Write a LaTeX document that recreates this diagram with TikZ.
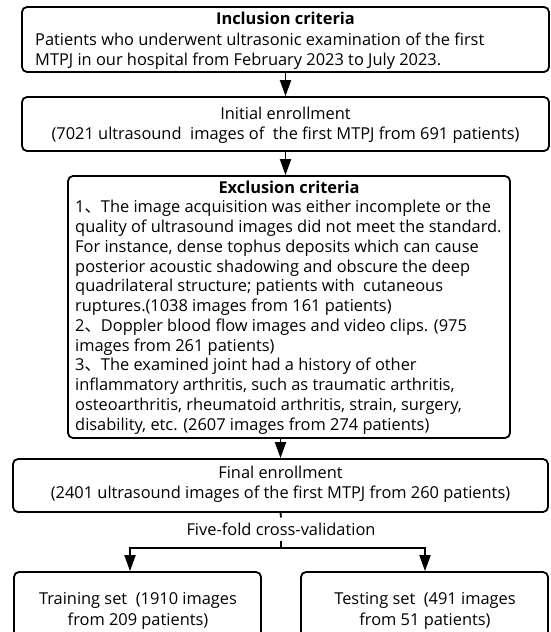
\documentclass[tikz,border=0pt]{standalone}
\usepackage{fontspec}
\setmainfont{Open Sans}
\newfontfamily\cjk{Noto Sans CJK SC}
\usetikzlibrary{arrows.meta}
\tikzset{
  box/.style={draw, line width=1.8pt, rounded corners=5pt, inner sep=0pt},
  txt/.style={inner sep=0pt, font=\fontsize{16.4}{19.75}\selectfont},
  hdr/.style={inner sep=0pt, font=\fontsize{16.4}{19.75}\selectfont\bfseries},
  arr/.style={line width=1.8pt, -{Triangle[width=11pt,length=16pt]}},
  conn/.style={line width=1.8pt}
}
\begin{document}
\begin{tikzpicture}[x=1pt,y=-1pt]
\useasboundingbox[fill=white] (0,0) rectangle (550,632);
\clip (0,0) rectangle (550,632);
% boxes
\node[box, minimum width=527, minimum height=65] (inc) at (285.5,39.5) {};
\node[box, minimum width=527, minimum height=54] (ini) at (285.5,124) {};
\node[box, minimum width=442, minimum height=262] (exc) at (289,307) {};
\node[box, minimum width=535, minimum height=53] (fin) at (280.5,485.5) {};
\node[box, minimum width=247, minimum height=80] (train) at (137.5,612) {};
\node[box, minimum width=247, minimum height=80] (test) at (424.5,612) {};
% inclusion
\node[hdr, anchor=base] (inch) at (285.5,24) {Inclusion criteria};
\node[txt, anchor=base west] (inc1) at (35,45) {Patients who underwent ultrasonic examination of the first};
\node[txt, anchor=base west] (inc2) at (35,65) {MTPJ in our hospital from February 2023 to July 2023.};
% initial
\node[txt, anchor=base] (ini1) at (285.5,119) {Initial enrollment};
\node[txt, anchor=base] (ini2) at (285.5,139) {(7021 ultrasound\ \ images of\ \ the first MTPJ from 691 patients)};
% exclusion
\node[hdr, anchor=base] (exch) at (289,193) {Exclusion criteria};
\node[txt, anchor=base west] (e1) at (75,212.75) {1{\cjk 、}The image acquisition was either incomplete or the};
\node[txt, anchor=base west] (e2) at (75,232.5) {quality of ultrasound images did not meet the standard.};
\node[txt, anchor=base west] (e3) at (75,252.25) {For instance, dense tophus deposits which can cause};
\node[txt, anchor=base west] (e4) at (75,272) {posterior acoustic shadowing and obscure the deep};
\node[txt, anchor=base west] (e5) at (75,291.75) {quadrilateral structure; patients with\ \ cutaneous};
\node[txt, anchor=base west] (e6) at (75,311.5) {ruptures.(1038 images from 161 patients)};
\node[txt, anchor=base west] (e7) at (75,331.25) {2{\cjk 、}Doppler blood flow images and video clips. (975};
\node[txt, anchor=base west] (e8) at (75,351) {images from 261 patients)};
\node[txt, anchor=base west] (e9) at (75,370.75) {3{\cjk 、}The examined joint had a history of other};
\node[txt, anchor=base west] (e10) at (75,390.5) {inflammatory arthritis, such as traumatic arthritis,};
\node[txt, anchor=base west] (e11) at (75,410.25) {osteoarthritis, rheumatoid arthritis, strain, surgery,};
\node[txt, anchor=base west] (e12) at (75,430) {disability, etc. (2607 images from 274 patients)};
% final
\node[txt, anchor=base] (fin1) at (280.5,478) {Final enrollment};
\node[txt, anchor=base] (fin2) at (280.5,498) {(2401 ultrasound images of the first MTPJ from 260 patients)};
% cross-validation
\node[txt, inner ysep=5pt] (cv) at (281,529) {Five-fold cross-validation};
\coordinate (br) at (281,548);
\coordinate (brL) at (130,548);
\coordinate (brR) at (425,548);
% bottom texts
\node[txt, anchor=base] (tr1) at (138,604) {Training set\ \ (1910 images};
\node[txt, anchor=base] (tr2) at (138,625) {from 209 patients)};
\node[txt, anchor=base] (te1) at (425,604) {Testing set\ \ (491 images};
\node[txt, anchor=base] (te2) at (425,625) {from 51 patients)};
% connectors
\draw[arr] (inc.south) -- (ini.north);
\draw[arr] (ini.south) -- (ini.south |- exc.north);
\draw[arr] (exc.south -| fin.north) -- (fin.north);
\draw[conn] (fin.south) -- (cv.north);
\draw[conn] (cv.south) -- (br);
\draw[arr] (br) -- (brL) -- (brL |- train.north);
\draw[arr] (br) -- (brR) -- (brR |- test.north);
\end{tikzpicture}
\end{document}
